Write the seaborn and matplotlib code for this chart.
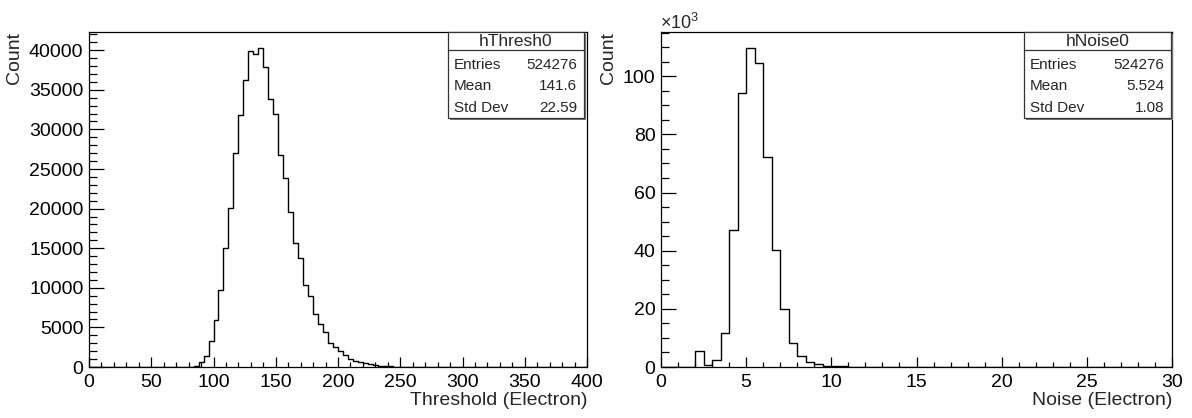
import numpy as np
import pandas as pd
import matplotlib
matplotlib.use("Agg")
import matplotlib.pyplot as plt
from matplotlib.ticker import MultipleLocator, FuncFormatter
from matplotlib.patches import Rectangle
import seaborn as sns

# ---------------- data ----------------
thresh_range = (0, 400)
thresh_nbins = 100                     # width 4
thresh_counts = [0] * 20 + [
    20, 120, 630, 1340, 3240, 5880, 9660, 15000, 20090, 27020,
    31850, 36220, 39920, 39580, 40260, 37940, 33830, 31890, 26770, 23830,
    19540, 15670, 13740, 10380, 8910, 6680, 5380, 4370, 3030, 2520,
    2020, 1470, 1050, 800, 630, 460, 340, 250, 170, 120,
    80, 60, 40, 30, 20, 15, 10,
]
thresh_counts = thresh_counts + [0] * (thresh_nbins - len(thresh_counts))

noise_range = (0, 30)
noise_nbins = 60                       # width 0.5
noise_counts = [0, 0, 0, 0,
    5400, 800, 2500, 11600, 47000, 94100, 109600, 104500, 72100, 40200,
    19900, 8400, 3700, 1700, 900, 500, 300, 200, 100, 60,
]
noise_counts = noise_counts + [0] * (noise_nbins - len(noise_counts))

stat_labels = ["Entries", "Mean", "Std Dev"]
thresh_title = "hThresh0"
thresh_stats = ["524276", "141.6", "22.59"]
noise_title = "hNoise0"
noise_stats = ["524276", "5.524", "1.08"]

thresh_xlabel = "Threshold (Electron)"
noise_xlabel = "Noise (Electron)"
ylabel = "Count"

# ---------------- style ----------------
sns.set_style("white")
plt.rcParams["font.family"] = ["Liberation Sans", "DejaVu Sans"]
plt.rcParams["mathtext.fontset"] = "custom"
plt.rcParams["mathtext.rm"] = "Liberation Sans"
plt.rcParams["mathtext.it"] = "Liberation Sans"

W, H = 1192, 418
fig = plt.figure(figsize=(W / 100, H / 100), dpi=100)
fig.patch.set_facecolor("white")


def fx(px):
    return px / W


def fy(py):
    return 1 - py / H


ax1 = fig.add_axes([fx(89), fy(367), fx(587) - fx(89), fy(32) - fy(367)])
ax2 = fig.add_axes([fx(661), fy(367), fx(1172) - fx(661), fy(32) - fy(367)])

w1 = (thresh_range[1] - thresh_range[0]) / thresh_nbins
w2 = (noise_range[1] - noise_range[0]) / noise_nbins
df1 = pd.DataFrame({"x": thresh_range[0] + w1 * (np.arange(thresh_nbins) + 0.5),
                    "w": thresh_counts})
df2 = pd.DataFrame({"x": noise_range[0] + w2 * (np.arange(noise_nbins) + 0.5),
                    "w": noise_counts})

sns.histplot(data=df1, x="x", weights="w", bins=thresh_nbins, binrange=thresh_range,
             element="step", fill=False, color="black", linewidth=1.0, ax=ax1)
sns.histplot(data=df2, x="x", weights="w", bins=noise_nbins, binrange=noise_range,
             element="step", fill=False, color="black", linewidth=1.0, ax=ax2)

ax1.set_xlim(0, 400)
ax1.set_ylim(0, 42300)
ax2.set_xlim(0, 30)
ax2.set_ylim(0, 115200)

ax1.xaxis.set_major_locator(MultipleLocator(50))
ax1.xaxis.set_minor_locator(MultipleLocator(10))
ax1.yaxis.set_major_locator(MultipleLocator(5000))
ax1.yaxis.set_minor_locator(MultipleLocator(1000))
ax2.xaxis.set_major_locator(MultipleLocator(5))
ax2.xaxis.set_minor_locator(MultipleLocator(1))
ax2.yaxis.set_major_locator(MultipleLocator(20000))
ax2.yaxis.set_minor_locator(MultipleLocator(5000))
ax2.yaxis.set_major_formatter(FuncFormatter(lambda v, p: f"{v / 1000:g}"))
ax1.xaxis.set_major_formatter(FuncFormatter(lambda v, p: f"{v:g}"))
ax2.xaxis.set_major_formatter(FuncFormatter(lambda v, p: f"{v:g}"))
ax1.yaxis.set_major_formatter(FuncFormatter(lambda v, p: f"{v:g}"))

for ax in (ax1, ax2):
    for s in ax.spines.values():
        s.set_color("black")
        s.set_linewidth(0.9)
        s.set_visible(True)
    ax.tick_params(axis="both", which="both", direction="in", colors="black",
                   labelsize=14, width=0.9, top=False, right=False,
                   left=True, bottom=True)
    ax.tick_params(axis="y", which="major", length=11, pad=4)
    ax.tick_params(axis="y", which="minor", length=5.5)
    ax.tick_params(axis="x", which="major", length=7.2, pad=5)
    ax.tick_params(axis="x", which="minor", length=3.6)
    ax.grid(False)
    ax.set_facecolor("white")

ax1.set_xlabel(thresh_xlabel, fontsize=14, loc="right")
ax2.set_xlabel(noise_xlabel, fontsize=14, loc="right")
ax1.xaxis.set_label_coords(1.0, -0.075)
ax2.xaxis.set_label_coords(1.0, -0.075)

ax1.set_ylabel(ylabel, fontsize=14, loc="top")
ax2.set_ylabel(ylabel, fontsize=14, loc="top")
ax1.yaxis.set_label_coords((23 - 89) / 498, 1.0)
ax2.yaxis.set_label_coords((617 - 661) / 511, 1.0)

fig.text(fx(660), fy(29), r"$\times10^{3}$", fontsize=13, ha="left", va="baseline")


def stats_box(x0, x1, title, values):
    y0, y1, ysep = 32, 118, 50
    fig.add_artist(Rectangle((fx(x0 + 2), fy(y1 + 2)), fx(x1) - fx(x0), fy(y0) - fy(y1),
                             transform=fig.transFigure, facecolor="#777777",
                             edgecolor="none", zorder=9))
    fig.add_artist(Rectangle((fx(x0), fy(y1)), fx(x1) - fx(x0), fy(y0) - fy(y1),
                             transform=fig.transFigure, facecolor="white",
                             edgecolor="#333333", linewidth=0.9, zorder=10))
    fig.add_artist(plt.Line2D([fx(x0), fx(x1)], [fy(ysep), fy(ysep)],
                              transform=fig.transFigure, color="#333333",
                              linewidth=0.9, zorder=11))
    fig.text((fx(x0) + fx(x1)) / 2, fy(41), title, ha="center", va="center",
             fontsize=12.5, zorder=12)
    rows = [65, 86.5, 107.5]
    for lab, val, ry in zip(stat_labels, values, rows):
        fig.text(fx(x0 + 6), fy(ry), lab, ha="left", va="center", fontsize=11, zorder=12)
        fig.text(fx(x1 - 7), fy(ry), val, ha="right", va="center", fontsize=11, zorder=12)


stats_box(448, 584, thresh_title, thresh_stats)
stats_box(1024, 1171, noise_title, noise_stats)

fig.savefig("out.png", dpi=100, facecolor="white")
